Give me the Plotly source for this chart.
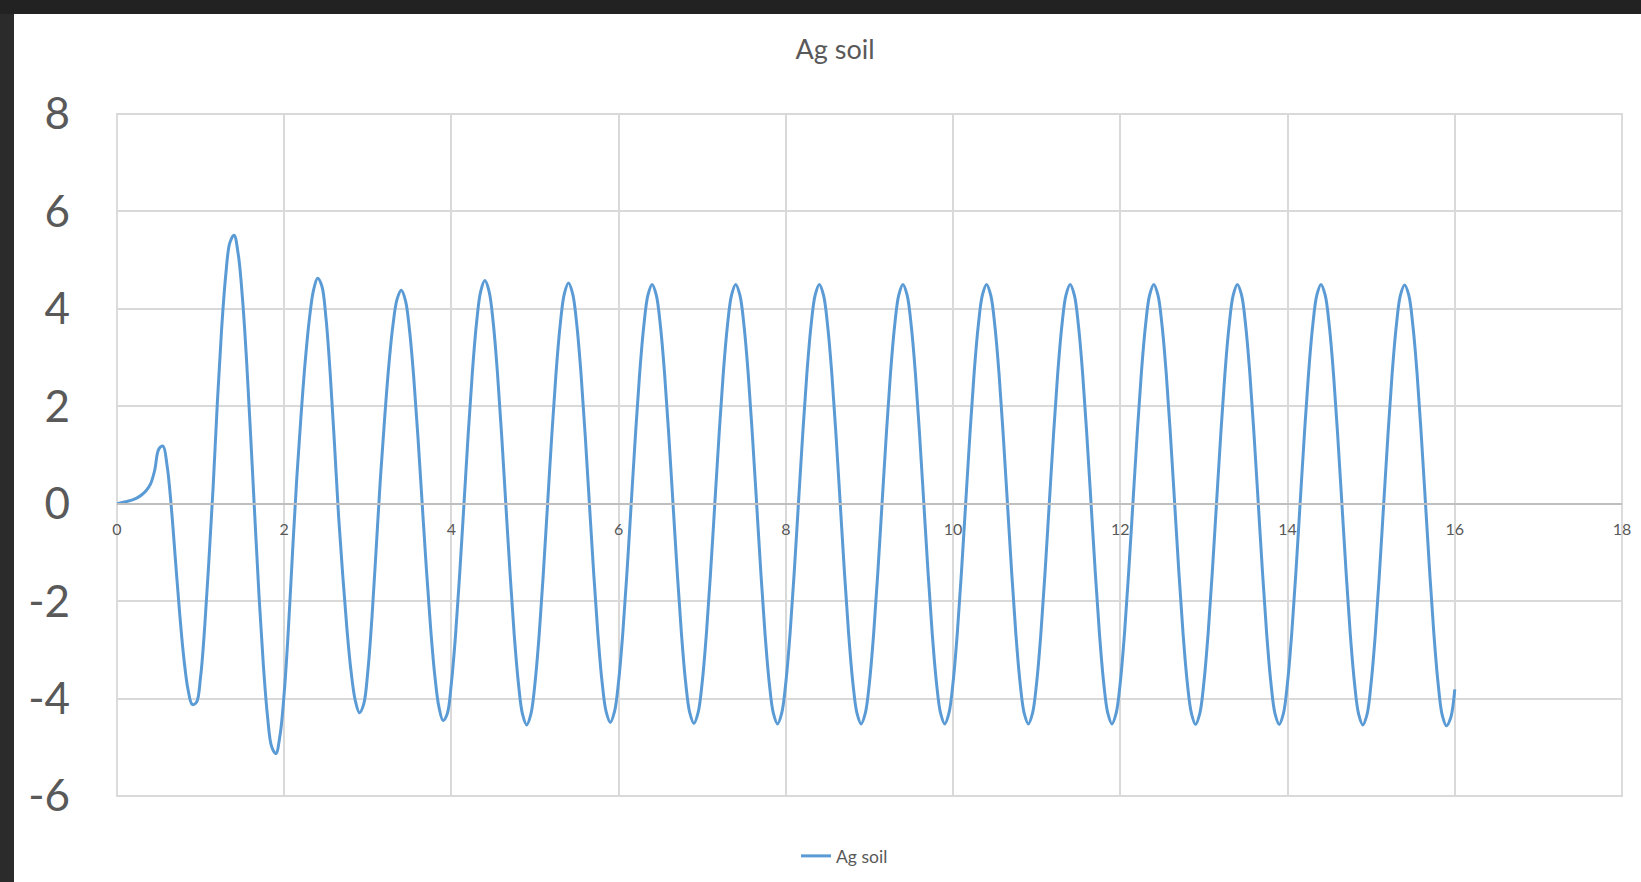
import plotly.graph_objects as go

# Time axis (s), sampled every 0.05
time = [round(i * 0.05, 2) for i in range(321)]

# Response values, one row per unit of time (t = n.00 .. n.95)
cycle_00 = [0.00, 0.02, 0.04, 0.06, 0.09, 0.13, 0.19, 0.27, 0.40, 0.68,
            1.12, 1.18, 0.77, -0.08, -1.18, -2.26, -3.18, -3.82, -4.12, -4.08]
cycle_01 = [-3.55, -2.50, -1.14, 0.35, 2.07, 3.55, 4.68, 5.36, 5.51, 5.12,
            4.23, 2.93, 1.34, -0.32, -1.93, -3.30, -4.36, -4.99, -5.13, -4.75]
cycle_02 = [-3.88, -2.57, -0.98, 0.52, 1.78, 2.90, 3.78, 4.38, 4.63, 4.47,
            3.80, 2.67, 1.26, -0.25, -1.47, -2.57, -3.45, -4.04, -4.29, -4.12]
cycle_03 = [-3.44, -2.32, -0.92, 0.51, 1.73, 2.82, 3.66, 4.20, 4.38, 4.17,
            3.54, 2.57, 1.35, 0.00, -1.33, -2.53, -3.51, -4.17, -4.45, -4.31]
cycle_04 = [-3.67, -2.67, -1.40, 0.00, 1.42, 2.69, 3.71, 4.36, 4.58, 4.36,
            3.71, 2.69, 1.42, 0.00, -1.40, -2.67, -3.67, -4.32, -4.54, -4.32]
cycle_05 = [-3.67, -2.67, -1.40, 0.00, 1.40, 2.66, 3.66, 4.31, 4.53, 4.31,
            3.66, 2.66, 1.40, 0.00, -1.39, -2.64, -3.63, -4.27, -4.49, -4.27]
cycle_06 = [-3.63, -2.64, -1.39, 0.00, 1.39, 2.65, 3.64, 4.28, 4.50, 4.28,
            3.64, 2.65, 1.39, 0.00, -1.39, -2.65, -3.65, -4.29, -4.51, -4.29]
cycle_07 = [-3.65, -2.65, -1.39, 0.00, 1.39, 2.65, 3.64, 4.28, 4.50, 4.28,
            3.64, 2.65, 1.39, 0.00, -1.40, -2.66, -3.66, -4.30, -4.52, -4.30]
cycle_08 = [-3.66, -2.66, -1.40, 0.00, 1.39, 2.65, 3.64, 4.28, 4.50, 4.28,
            3.64, 2.65, 1.39, 0.00, -1.40, -2.66, -3.66, -4.30, -4.52, -4.30]
cycle_09 = [-3.66, -2.66, -1.40, 0.00, 1.39, 2.65, 3.64, 4.28, 4.50, 4.28,
            3.64, 2.65, 1.39, 0.00, -1.40, -2.66, -3.66, -4.30, -4.52, -4.30]
cycle_10 = [-3.66, -2.66, -1.40, 0.00, 1.39, 2.65, 3.64, 4.28, 4.50, 4.28,
            3.64, 2.65, 1.39, 0.00, -1.40, -2.66, -3.66, -4.30, -4.52, -4.30]
cycle_11 = [-3.66, -2.66, -1.40, 0.00, 1.39, 2.65, 3.64, 4.28, 4.50, 4.28,
            3.64, 2.65, 1.39, 0.00, -1.40, -2.66, -3.66, -4.30, -4.52, -4.30]
cycle_12 = [-3.66, -2.66, -1.40, 0.00, 1.39, 2.65, 3.64, 4.28, 4.50, 4.28,
            3.64, 2.65, 1.39, 0.00, -1.40, -2.66, -3.66, -4.30, -4.53, -4.31]
cycle_13 = [-3.66, -2.66, -1.40, 0.00, 1.39, 2.65, 3.64, 4.28, 4.50, 4.28,
            3.64, 2.65, 1.39, 0.00, -1.40, -2.66, -3.66, -4.31, -4.53, -4.31]
cycle_14 = [-3.66, -2.66, -1.40, 0.00, 1.39, 2.65, 3.64, 4.28, 4.50, 4.28,
            3.64, 2.65, 1.39, 0.00, -1.40, -2.67, -3.67, -4.32, -4.54, -4.33]
cycle_15 = [-3.67, -2.67, -1.40, 0.00, 1.39, 2.65, 3.64, 4.28, 4.49, 4.28,
            3.64, 2.65, 1.39, 0.00, -1.40, -2.67, -3.68, -4.34, -4.56, -4.40]
final_value = [-3.81]

ag_soil = (cycle_00 + cycle_01 + cycle_02 + cycle_03 + cycle_04 + cycle_05 +
           cycle_06 + cycle_07 + cycle_08 + cycle_09 + cycle_10 + cycle_11 +
           cycle_12 + cycle_13 + cycle_14 + cycle_15 + final_value)

x_ticks = [0, 2, 4, 6, 8, 10, 12, 14, 16, 18]
y_ticks = [-6, -4, -2, 0, 2, 4, 6, 8]
y_tick_text = [str(v) for v in y_ticks]  # plain hyphen-minus like the original

W, H = 1641, 882
ML, MR, MT, MB = 117, 19, 114, 86
PW, PH = W - ML - MR, H - MT - MB

def px(xp):
    return (xp - ML) / PW

def py(yp):
    return (H - MB - yp) / PH

FONT = "Lato, 'Open Sans', sans-serif"
GREY = "#595959"
GRID = "#d9d9d9"

fig = go.Figure()
fig.add_trace(go.Scatter(
    x=time, y=ag_soil, mode="lines", name="Ag soil",
    line=dict(color="#5b9bd5", width=3, shape="spline", smoothing=1.0),
))

fig.update_layout(
    width=W, height=H, autosize=False,
    margin=dict(l=ML, r=MR, t=MT, b=MB, pad=0, autoexpand=False),
    paper_bgcolor="white", plot_bgcolor="white",
    font=dict(family=FONT, color=GREY),
    title=dict(text="Ag soil", font=dict(size=27, color=GREY, family=FONT),
               x=835 / W, xref="container", xanchor="center",
               y=1 - 50 / H, yref="container", yanchor="middle"),
    showlegend=True,
    legend=dict(orientation="h", x=px(796), xanchor="left",
                y=py(856), yanchor="middle", font=dict(size=17.5, color=GREY),
                bgcolor="rgba(0,0,0,0)"),
    xaxis=dict(range=[0, 18], tickvals=x_ticks, showgrid=True, gridcolor=GRID,
               gridwidth=1.8, zeroline=False, anchor="free", position=6 / 14,
               showline=True, linecolor="#bfbfbf", linewidth=1.5,
               ticks="", tickfont=dict(size=16, color=GREY, family=FONT),
               ticklabelstandoff=11),
    yaxis=dict(range=[-6, 8], tickvals=y_ticks, ticktext=y_tick_text,
               showgrid=True, gridcolor=GRID,
               gridwidth=1.8, zeroline=False, showline=False, domain=[0, 1],
               ticks="", tickfont=dict(size=44, color=GREY, family=FONT),
               ticklabelstandoff=46),
    shapes=[
        dict(type="rect", xref="paper", yref="paper", x0=0, x1=1, y0=0, y1=1,
             line=dict(color=GRID, width=1.8), layer="below"),
        dict(type="rect", xref="paper", yref="paper", x0=px(0), x1=px(14),
             y0=py(H), y1=py(0), line=dict(width=0), fillcolor="#2b2b2b"),
        dict(type="rect", xref="paper", yref="paper", x0=px(0), x1=px(W),
             y0=py(14), y1=py(0), line=dict(width=0), fillcolor="#222222"),
    ],
)

fig.write_html("out.html",
               config={"displayModeBar": False},
               post_script="document.body.style.margin='0px';"
                           "document.body.style.overflow='hidden';")
